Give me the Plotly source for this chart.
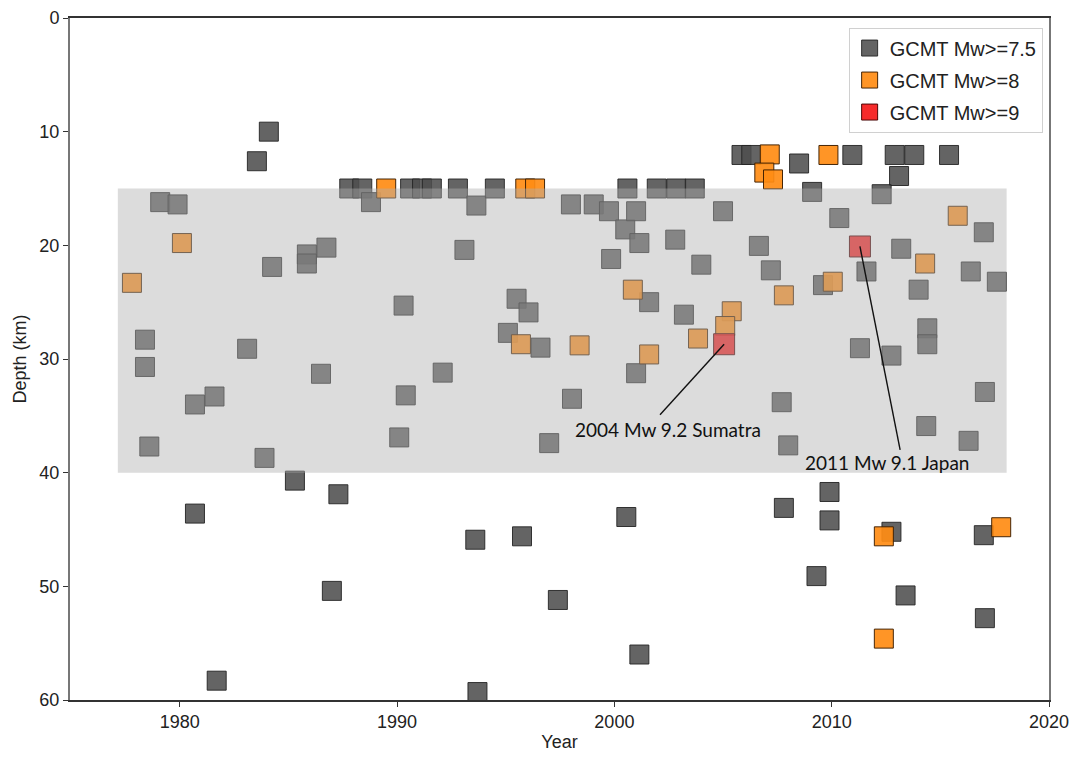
import plotly.graph_objects as go

# Mw >= 7.5 events (grey)
gray_year = [1984.1, 1983.55, 1987.8, 1988.4, 1979.1, 1979.9, 1984.25, 1985.85, 1985.85, 1986.75,
             1978.4, 1978.4, 1983.1, 1986.5, 1980.7, 1981.6, 1978.6, 1983.9, 1985.3, 1987.3,
             1980.7, 1987.0, 1981.7, 1988.8, 1990.6, 1991.15, 1991.6, 1992.8, 1993.65, 1994.5,
             1998.0, 1999.05, 1999.75, 2000.5, 2000.6, 2001.0, 2001.15, 1993.1, 1999.85, 1990.3,
             1995.5, 1996.05, 1995.1, 1996.6, 1992.1, 1990.4, 1998.05, 1990.1, 1997.0, 1993.6,
             1995.75, 2000.55, 1997.4, 1993.7, 2001.15, 2005.85, 2006.3, 2008.5, 2009.1, 2010.35,
             2001.95, 2002.85, 2003.7, 2005.0, 2002.8, 2004.0, 2006.65, 2007.2, 2001.6, 2003.2,
             2001.0, 2009.6, 2007.7, 2008.0, 2007.8, 2009.9, 2009.9, 2009.3, 2010.95, 2012.9,
             2013.8, 2015.4, 2013.1, 2012.3, 2011.6, 2013.2, 2017.0, 2014.0, 2016.4, 2017.6,
             2014.4, 2014.4, 2011.3, 2012.75, 2017.05, 2014.35, 2016.3, 2012.75, 2017.0, 2013.4,
             2017.05]
gray_depth = [10.0, 12.6, 15.0, 15.0, 16.2, 16.4, 21.9, 20.8, 21.6, 20.2,
              28.3, 30.7, 29.1, 31.3, 34.0, 33.3, 37.7, 38.7, 40.7, 41.9,
              43.6, 50.4, 58.3, 16.2, 15.0, 15.0, 15.0, 15.0, 16.5, 15.0,
              16.4, 16.4, 17.0, 18.6, 15.0, 17.0, 19.8, 20.4, 21.2, 25.3,
              24.7, 25.9, 27.7, 29.0, 31.2, 33.2, 33.5, 36.9, 37.4, 45.9,
              45.6, 43.9, 51.2, 59.3, 56.0, 12.05, 12.05, 12.8, 15.3, 17.6,
              15.0, 15.0, 15.0, 17.0, 19.5, 21.7, 20.05, 22.2, 25.0, 26.1,
              31.25, 23.5, 33.8, 37.6, 43.1, 41.7, 44.2, 49.1, 12.05, 12.05,
              12.05, 12.05, 13.9, 15.5, 22.3, 20.3, 18.85, 23.9, 22.3, 23.2,
              27.3, 28.7, 29.05, 29.7, 32.9, 35.9, 37.2, 45.2, 45.5, 50.8,
              52.8]

# Mw >= 8 events (orange)
orange_year = [1977.8, 1980.1, 1989.5, 1995.9, 1996.35, 1995.7, 1998.4, 2000.85, 2001.6, 2003.85,
               2005.4, 2005.1, 2007.15, 2006.9, 2007.3, 2009.85, 2007.8, 2010.05, 2015.8, 2014.3,
               2012.4, 2017.8, 2012.4]
orange_depth = [23.3, 19.8, 15.0, 15.0, 15.0, 28.7, 28.8, 23.9, 29.6, 28.2,
                25.8, 27.1, 12.0, 13.6, 14.2, 12.05, 24.4, 23.2, 17.4, 21.6,
                45.6, 44.8, 54.6]

# Mw >= 9 events (red)
red_year = [2005.05, 2011.3]
red_depth = [28.7, 20.1]

# labels for the Mw>=9 events: text, text centre, leader-line tail
label_text = ["2004 Mw 9.2 Sumatra", "2011 Mw 9.1 Japan"]
label_year = [2002.46, 2012.54]
label_depth = [36.2, 39.1]
tail_year = [2002.1, 2013.15]
tail_depth = [34.9, 38.0]

# seismogenic depth band
band_year = [1977.15, 2018.05]
band_depth = [15, 40]

x_ticks = [1980, 1990, 2000, 2010, 2020]
y_ticks = [0, 10, 20, 30, 40, 50, 60]

FONT = "Liberation Sans, Arial, Helvetica, sans-serif"
MS = 19

fig = go.Figure()
fig.add_trace(go.Scatter(
    x=gray_year, y=gray_depth, mode="markers", name="GCMT Mw>=7.5", legendgroup="a",
    marker=dict(symbol="square", size=MS, color="rgba(78,78,78,0.88)",
                line=dict(color="rgba(35,35,35,0.9)", width=1))))
fig.add_trace(go.Scatter(
    x=orange_year, y=orange_depth, mode="markers", name="GCMT Mw>=8", legendgroup="b",
    marker=dict(symbol="square", size=MS, color="rgba(255,140,20,0.92)",
                line=dict(color="rgba(60,30,0,0.95)", width=1))))
fig.add_trace(go.Scatter(
    x=red_year, y=red_depth, mode="markers", name="GCMT Mw>=9", legendgroup="c",
    marker=dict(symbol="square", size=MS + 2, color="rgba(245,25,25,0.92)",
                line=dict(color="rgba(70,0,0,0.95)", width=1))))

# translucent band drawn over the markers
fig.add_shape(type="rect", xref="x", yref="y",
              x0=band_year[0], x1=band_year[1], y0=band_depth[0], y1=band_depth[1],
              fillcolor="rgba(175,175,175,0.44)", line=dict(width=0), layer="above")

for i in range(len(red_year)):
    fig.add_shape(type="line", xref="x", yref="y",
                  x0=tail_year[i], y0=tail_depth[i], x1=red_year[i], y1=red_depth[i],
                  line=dict(color="#111", width=1.4), layer="above")
    fig.add_annotation(x=label_year[i], y=label_depth[i], text=label_text[i],
                       showarrow=False, font=dict(family="Lato, Open Sans, sans-serif",
                                                  size=19, color="#111"))

# the page body keeps an 8px default margin, so the figure is 8px smaller
fig.update_layout(
    width=1069, height=749,
    margin=dict(l=62, r=28, t=10, b=57, autoexpand=False),
    paper_bgcolor="white", plot_bgcolor="white",
    font=dict(family=FONT, size=18, color="#222"),
    legend=dict(x=0.9935, y=0.986, xanchor="right", yanchor="top",
                bgcolor="white", bordercolor="#d0d0d0", borderwidth=1,
                font=dict(family=FONT, size=20, color="#222"),
                itemsizing="trace", traceorder="grouped", tracegroupgap=3),
    xaxis=dict(range=[1974.95, 2020], tickvals=x_ticks, ticks="outside", ticklen=5,
               tickcolor="#333", showgrid=False, zeroline=False, automargin=False,
               showline=True, linecolor="#333", linewidth=1.5, mirror=True,
               title=dict(text="Year", font=dict(size=18), standoff=4),
               tickfont=dict(size=18)),
    yaxis=dict(range=[60, 0], tickvals=y_ticks, ticks="outside", ticklen=5,
               tickcolor="#333", showgrid=False, zeroline=False, automargin=False,
               showline=True, linecolor="#777", linewidth=2, mirror=True,
               title=dict(text="Depth (km)", font=dict(size=18), standoff=8),
               tickfont=dict(size=18)),
)

fig.write_html("out.html")
